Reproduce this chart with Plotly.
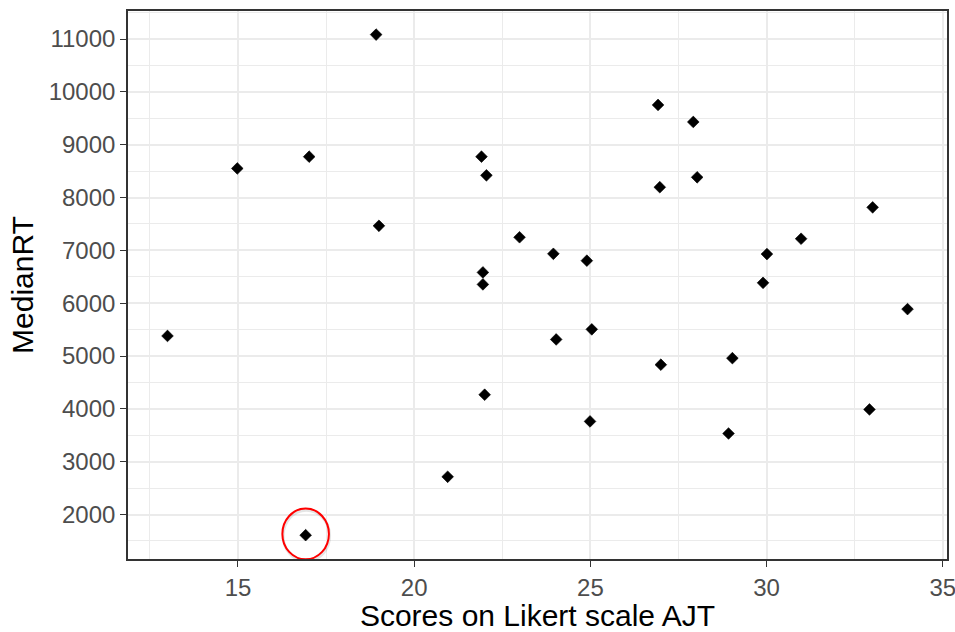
import plotly.graph_objects as go

# Likert-scale AJT score vs. median response time per participant
ajt_scores = [13.0, 14.98, 17.02, 16.92, 18.92, 19.0, 20.95, 21.91, 22.05, 21.95,
              21.95, 22.0, 22.99, 23.95, 24.03, 24.9, 25.04, 24.99, 26.92, 26.97,
              27.0, 27.92, 28.03, 29.03, 28.92, 30.01, 29.9, 30.98, 32.92, 33.01, 34.0]
median_rt = [5380, 8550, 8773, 1610, 11083, 7465, 2715, 8773, 8420, 6583,
             6356, 4268, 7248, 6935, 5314, 6805, 5505, 3763, 9752, 8195,
             4836, 9430, 8383, 4960, 3534, 6930, 6386, 7220, 3989, 7814, 5888]

x_ticks = [15, 20, 25, 30, 35]
y_ticks = [2000, 3000, 4000, 5000, 6000, 7000, 8000, 9000, 10000, 11000]

# highlighted outlier (the fastest responder)
outlier_x = 16.92
outlier_y = 1610

FONT = "Liberation Sans, Arial, sans-serif"
GRID = "#EBEBEB"
AXIS = "#333333"

fig = go.Figure()
fig.add_trace(go.Scatter(
    x=ajt_scores, y=median_rt, mode="markers",
    marker=dict(symbol="diamond", size=9, color="black",
                line=dict(width=0.6, color="black")),
    hoverinfo="x+y", showlegend=False,
))

# ring around the outlier, with a faint drop shadow
fig.add_shape(type="circle", xref="x", yref="y",
              x0=outlier_x - 0.64, x1=outlier_x + 0.68,
              y0=outlier_y - 490, y1=outlier_y + 470,
              line=dict(color="rgba(0,0,0,0.10)", width=3), layer="above")
fig.add_shape(type="circle", xref="x", yref="y",
              x0=outlier_x - 0.66, x1=outlier_x + 0.66,
              y0=outlier_y - 457, y1=outlier_y + 504,
              line=dict(color="#FF0000", width=2), layer="above")

axis_common = dict(
    showgrid=True, gridcolor=GRID, gridwidth=1.8,
    showline=True, linecolor=AXIS, linewidth=1.6, mirror=True,
    ticks="outside", ticklen=6, tickwidth=1.4, tickcolor=AXIS,
    tickfont=dict(family=FONT, size=24, color="#4D4D4D"),
    ticklabeloverflow="allow",
    zeroline=False,
)

fig.update_xaxes(
    **axis_common,
    range=[11.879, 35.12],
    tickmode="array", tickvals=x_ticks, ticktext=[str(v) for v in x_ticks],
    minor=dict(dtick=5, tick0=12.5, showgrid=True, gridcolor=GRID, gridwidth=1.0, ticks=""),
    title=dict(text="Scores on Likert scale AJT", standoff=6,
               font=dict(family=FONT, size=30, color="black")),
)
fig.update_yaxes(
    **axis_common,
    range=[1159, 11530],
    tickmode="array", tickvals=y_ticks, ticktext=[str(v) for v in y_ticks],
    minor=dict(dtick=1000, tick0=1500, showgrid=True, gridcolor=GRID, gridwidth=1.0, ticks=""),
    title=dict(text="MedianRT", standoff=6,
               font=dict(family=FONT, size=30, color="black")),
)

fig.update_layout(
    width=955, height=632,
    margin=dict(l=128, r=8, t=11, b=73, autoexpand=False),
    paper_bgcolor="white", plot_bgcolor="white",
    font=dict(family=FONT),
)

fig.write_html("out.html")
